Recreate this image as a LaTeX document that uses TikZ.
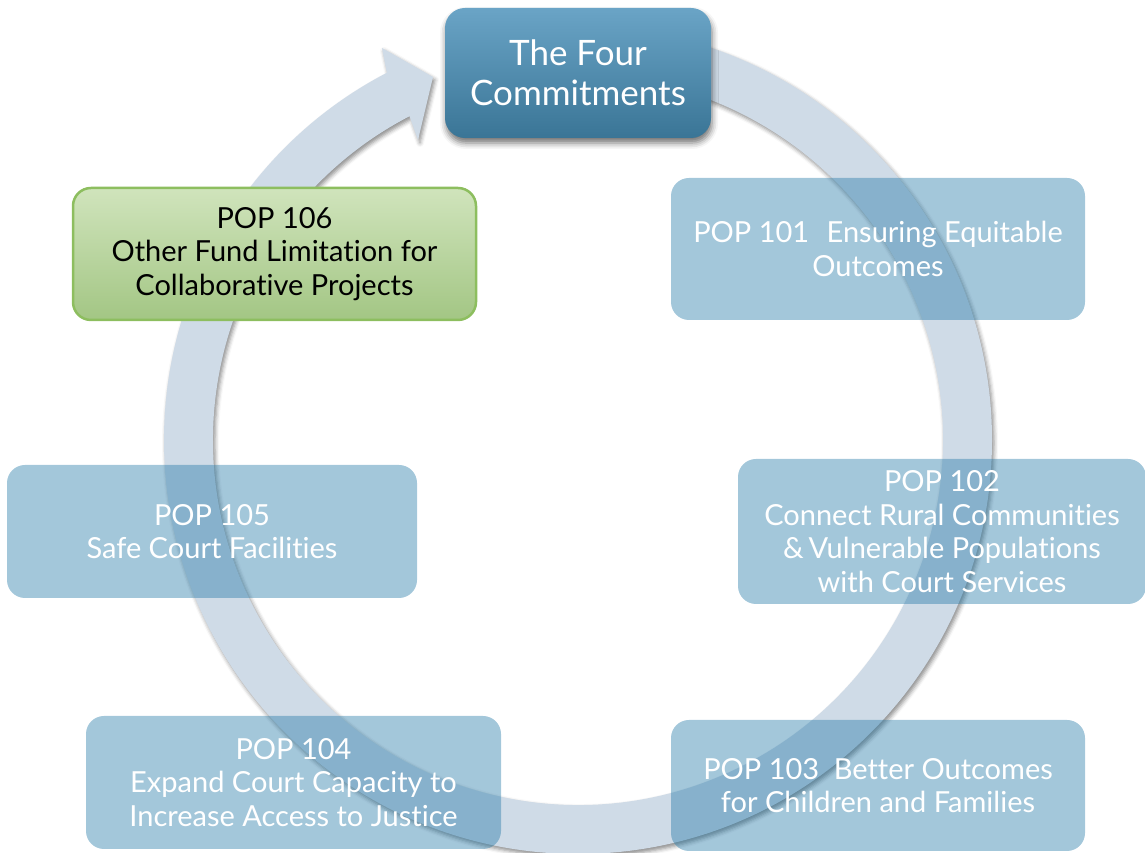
\documentclass[tikz,border=0pt]{standalone}
\usepackage{fontspec}
\setmainfont{Lato}[Ligatures=NoCommon]
\usetikzlibrary{shadows.blur}
\definecolor{ringcol}{RGB}{207,219,231}
\definecolor{bluebox}{RGB}{36,121,167}
\definecolor{toptop}{RGB}{106,164,198}
\definecolor{topbot}{RGB}{58,117,150}
\definecolor{greentop}{RGB}{208,228,188}
\definecolor{greenbot}{RGB}{163,198,132}
\definecolor{greenline}{RGB}{141,190,95}
\begin{document}
\begin{tikzpicture}[x=1pt,y=1pt,
  popbox/.style={rectangle, rounded corners=18pt, fill=bluebox, fill opacity=0.42,
    text opacity=1, text=white, font=\fontsize{29}{33.5}\selectfont, align=center, inner sep=0pt},
  ringshadow/.style={blur shadow={shadow xshift=2pt, shadow yshift=-3pt, shadow blur radius=4pt, shadow opacity=45}},
]
\useasboundingbox (0,0) rectangle (1145,853);
% circular arrow
\coordinate (c) at (578,413);
\coordinate (barbA) at (382,805);
\coordinate (tip) at (433,776);
\coordinate (barbB) at (418,713);
\fill[ringcol, ringshadow] (c) ++(90:414) arc[start angle=90, end angle=-242.5, radius=414]
  -- (barbA) -- (tip) -- (barbB)
  -- ($(c)+(-242.5:365)$) arc[start angle=-242.5, end angle=90, radius=365] -- cycle;
% boxes
\node[popbox, minimum width=414pt, minimum height=142pt] (p101) at (878,604)
  {POP 101\hspace{0.6em}Ensuring Equitable\\Outcomes};
\node[popbox, minimum width=408pt, minimum height=145pt] (p102) at (942,321.5)
  {POP 102\\Connect Rural Communities\\\&\,Vulnerable Populations\\with Court Services};
\node[popbox, minimum width=414pt, minimum height=131pt] (p103) at (878,67.5)
  {POP 103\hspace{0.5em}Better Outcomes\\for Children and Families};
\node[popbox, minimum width=415pt, minimum height=133pt] (p104) at (293.5,70.5)
  {POP 104\\Expand Court Capacity to\\Increase Access to Justice};
\node[popbox, minimum width=410pt, minimum height=133pt] (p105) at (212,321.5)
  {POP 105\\Safe Court Facilities};
\node[rectangle, rounded corners=18pt, top color=greentop, bottom color=greenbot,
  draw=greenline, line width=2.5pt, minimum width=403pt, minimum height=132pt,
  font=\fontsize{29}{33.5}\selectfont, align=center, inner sep=0pt] (p106) at (274.5,599)
  {POP 106\\Other Fund Limitation for\\Collaborative Projects};
\node[rectangle, rounded corners=20pt, top color=toptop, bottom color=topbot,
  blur shadow={shadow xshift=1pt, shadow yshift=-5pt, shadow blur radius=6pt, shadow opacity=55},
  minimum width=266pt, minimum height=130pt, text=white,
  font=\fontsize{35}{40}\selectfont, align=center, inner sep=0pt] (top) at (578,780)
  {The Four\\Commitments};
\end{tikzpicture}
\end{document}
